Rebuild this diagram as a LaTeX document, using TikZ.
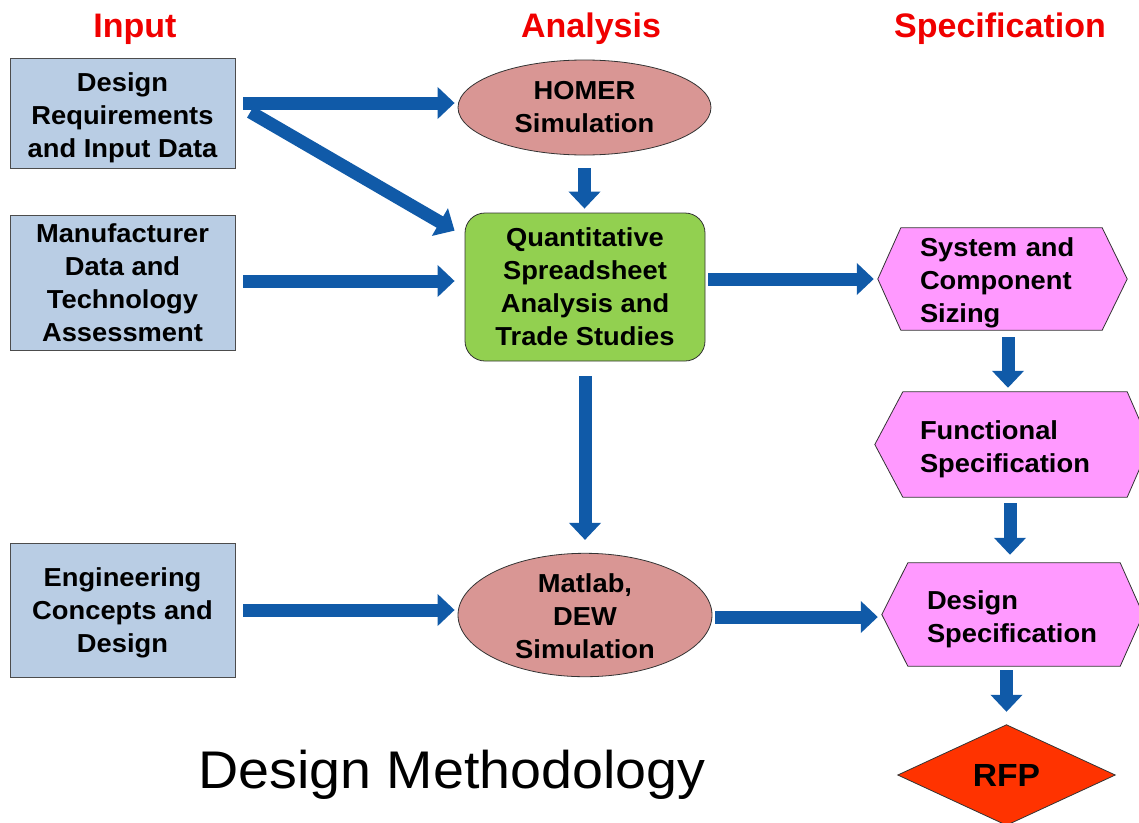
\documentclass[tikz,border=0pt]{standalone}
\usepackage{fontspec}
\setmainfont{Liberation Sans}[FakeStretch=1.05]
\newfontfamily\hdfont{Liberation Sans}
\usetikzlibrary{arrows.meta,shapes.geometric}
\definecolor{boxblue}{RGB}{185,205,228}
\definecolor{simred}{RGB}{217,150,148}
\definecolor{anagreen}{RGB}{146,208,80}
\definecolor{specpink}{RGB}{255,153,255}
\definecolor{rfpred}{RGB}{255,51,0}
\definecolor{arrblue}{RGB}{16,90,168}
\definecolor{hdred}{RGB}{240,0,0}
\newcommand\dnline[1]{\rule{0pt}{#1}}
\pgfdeclarelayer{bg}
\pgfsetlayers{bg,main}
\tikzset{
  txt/.style={font=\fontsize{26}{33}\selectfont\bfseries, align=center, inner sep=0pt},
  inbox/.style={txt, draw=black!70, line width=0.8pt, fill=boxblue, minimum width=225pt},
  simell/.style={txt, ellipse, draw=black!80, line width=0.8pt, fill=simred},
  greenbox/.style={txt, rounded corners=20pt, draw=black!80, line width=0.8pt, fill=anagreen, minimum width=240pt, minimum height=148pt},
  hexnode/.style={txt, align=left, inner ysep=0pt},
  hexshape/.style={draw=black!80, line width=0.8pt, fill=specpink},
  header/.style={font=\hdfont\fontsize{34}{40}\selectfont\bfseries, text=hdred, anchor=base, inner sep=0pt},
  barrow/.style={draw=arrblue, line width=13pt, -{Triangle[width=31pt,length=17pt]}, fill=arrblue},
}
\begin{document}
\begin{tikzpicture}[x=1pt,y=-1pt]
\useasboundingbox (0,0) rectangle (1139,822);
% headers
\node[header] (hin) at (135,37) {Input};
\node[header] (han) at (591,37) {Analysis};
\node[header] (hsp) at (1000,37) {Specification};
% input boxes
\node[inbox, minimum height=110pt] (b1) at (122.5,113) {\dnline{29pt}Design\\Requirements\\and Input Data};
\node[inbox, minimum height=135pt] (b2) at (122.5,282.5) {Manufacturer\\Data and\\Technology\\Assessment};
\node[inbox, minimum height=134pt] (b3) at (122.5,610) {\dnline{25pt}Engineering\\Concepts and\\Design};
% analysis
\node[simell, minimum width=253pt, minimum height=95pt] (homer) at (584.5,107.5) {HOMER\\Simulation};
\node[greenbox] (green) at (585,287) {Quantitative\\Spreadsheet\\Analysis and\\Trade Studies};
\node[simell, minimum width=254pt, minimum height=114pt] (matlab) at (585,615) {\dnline{21pt}Matlab,\\DEW\\Simulation};
% specification hexagons
\node[hexnode, text width=165pt, inner xsep=42pt, minimum height=102pt] (h1) at (1002.5,279) {\dnline{27pt}System and\\Component\\Sizing};
\node[hexnode, text width=185pt, inner xsep=45pt, minimum height=105pt] (h2) at (1012.5,444.5) {\dnline{29pt}Functional\\Specification};
\node[hexnode, text width=171pt, inner xsep=45pt, minimum height=103pt] (h3) at (1012.5,614.5) {\dnline{29pt}Design\\Specification};
\node[txt, font=\fontsize{32}{36}\selectfont\bfseries, minimum width=217pt, minimum height=100pt] (rfp) at (1006.5,775) {RFP};
\begin{pgfonlayer}{bg}
\draw[hexshape] (h1.west) -- ([xshift=23pt]h1.north west) -- ([xshift=-25pt]h1.north east) -- (h1.east) -- ([xshift=-25pt]h1.south east) -- ([xshift=23pt]h1.south west) -- cycle;
\draw[hexshape] (h2.west) -- ([xshift=28pt]h2.north west) -- ([xshift=-23pt]h2.north east) -- (h2.east) -- ([xshift=-23pt]h2.south east) -- ([xshift=28pt]h2.south west) -- cycle;
\draw[hexshape] (h3.west) -- ([xshift=26pt]h3.north west) -- ([xshift=-23pt]h3.north east) -- (h3.east) -- ([xshift=-23pt]h3.south east) -- ([xshift=26pt]h3.south west) -- cycle;
\draw[draw=black!80, line width=0.8pt, fill=rfpred] (rfp.west) -- (rfp.north) -- (rfp.east) -- (rfp.south) -- cycle;
\end{pgfonlayer}
% title
\node[font=\fontsize{53}{60}\selectfont, anchor=base west, inner sep=0pt] (title) at (198,788) {Design Methodology};
% arrows
\draw[barrow, shorten <=8pt, shorten >=3pt] ([yshift=10pt]b1.east) -- ([yshift=4.5pt]homer.west);
\draw[barrow, shorten <=8pt] ([shift={(8,-5)}]b1.east) -- ([shift={(-10,18)}]green.north west);
\draw[barrow, shorten <=8pt, shorten >=10pt] ([yshift=1.5pt]b2.east) -- ([yshift=1.5pt]b2.east -| green.west);
\draw[barrow, shorten <=13pt, shorten >=4pt] (homer.south) -- (homer.south |- green.north);
\draw[barrow, shorten <=3pt, shorten >=4pt] (green.east |- h1.west) -- (h1.west);
\draw[barrow, shorten <=15pt, shorten >=13pt] (green.south) -- (matlab.north);
\draw[barrow, shorten <=8pt, shorten >=3pt] (b3.east) -- (b3.east -| matlab.west);
\draw[barrow, shorten <=3pt, shorten >=4pt] ([yshift=-2pt]matlab.east) -- ([yshift=-2pt]matlab.east -| h3.west);
\draw[barrow, shorten <=7pt, shorten >=4pt] ([xshift=5.5pt]h1.south) -- ([xshift=5.5pt]h1.south |- h2.north);
\draw[barrow, shorten <=6pt, shorten >=8pt] ([xshift=-2.5pt]h2.south) -- ([xshift=-2.5pt]h2.south |- h3.north);
\draw[barrow, shorten <=4pt, shorten >=13pt] (h3.south -| rfp.north) -- (rfp.north);
\end{tikzpicture}
\end{document}
